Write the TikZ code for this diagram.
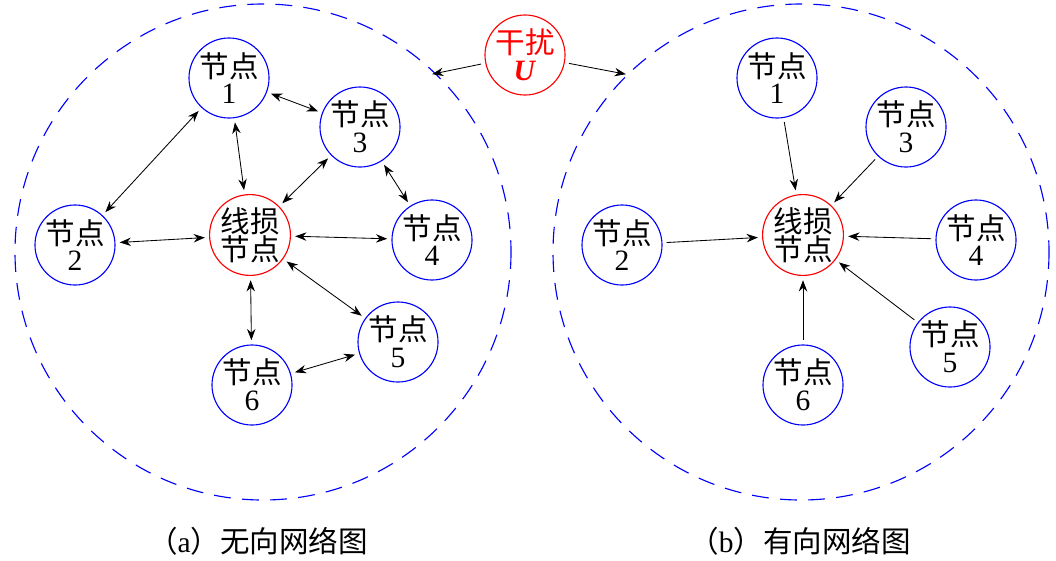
\documentclass[tikz,border=0pt]{standalone}
\usepackage{fontspec}
\setmainfont{Liberation Serif}
\newfontfamily\cjk{Noto Sans CJK SC}
\usetikzlibrary{arrows.meta}
\begin{document}
\begin{tikzpicture}[x=0.025cm,y=-0.025cm,thick,
  every node/.style={font=\fontsize{21}{21}\selectfont},
  nd/.style={circle,draw=blue,minimum size=2cm,inner sep=0pt,align=center},
  loss/.style={nd,draw=red},
  link/.style={{Stealth[length=8pt]}-{Stealth[length=8pt]},semithick,shorten <=3pt,shorten >=3pt},
  dir/.style={-{Stealth[length=8pt]},semithick,shorten <=3pt,shorten >=3pt}]
  \useasboundingbox (0,0) rectangle (1056,560);
  % network boundaries:
  \draw[blue,dashed,dash pattern=on 12pt off 8pt] (263,252) circle (248);
  \draw[blue,dashed,dash pattern=on 12pt off 8pt] (801,252) circle (248);
  % disturbance:
  \node[loss,text=red] (u) at (525,55) {{\cjk 干扰}\\[-2pt]\textbf{\textit{U}}};
  \coordinate (ua) at (428,75);
  \coordinate (ub) at (630,75);
  \draw[dir] (u) -- (ua);
  \draw[dir] (u) -- (ub);
  % undirected network:
  \node[loss] (c) at (250,235) {{\cjk 线损}\\[-1pt]{\cjk 节点}};
  \node[nd] (a1) at (229,78) {{\cjk 节点}\\[-2pt]1};
  \node[nd] (a2) at (75,245) {{\cjk 节点}\\[-2pt]2};
  \node[nd] (a3) at (360,127) {{\cjk 节点}\\[-2pt]3};
  \node[nd] (a4) at (432,240) {{\cjk 节点}\\[-2pt]4};
  \node[nd] (a5) at (398,342) {{\cjk 节点}\\[-2pt]5};
  \node[nd] (a6) at (252,385) {{\cjk 节点}\\[-2pt]6};
  \foreach \p/\q in {a1/a2,a1/a3,a1/c,a3/c,a3/a4,a2/c,c/a4,c/a5,c/a6,a5/a6}
    \draw[link] (\p) -- (\q);
  % directed network:
  \node[loss] (d) at (803,235) {{\cjk 线损}\\[-1pt]{\cjk 节点}};
  \node[nd] (b1) at (777,78) {{\cjk 节点}\\[-2pt]1};
  \node[nd] (b2) at (622,245) {{\cjk 节点}\\[-2pt]2};
  \node[nd] (b3) at (906,127) {{\cjk 节点}\\[-2pt]3};
  \node[nd] (b4) at (976,240) {{\cjk 节点}\\[-2pt]4};
  \node[nd] (b5) at (950,347) {{\cjk 节点}\\[-2pt]5};
  \node[nd] (b6) at (803,385) {{\cjk 节点}\\[-2pt]6};
  \foreach \p in {b1,b2,b3,b4,b5,b6}
    \draw[dir] (\p) -- (d);
  % captions:
  \node (capa) at (258,541) {{\cjk （}a{\cjk ）无向网络图}};
  \node (capb) at (800,541) {{\cjk （}b{\cjk ）有向网络图}};
\end{tikzpicture}
\end{document}
